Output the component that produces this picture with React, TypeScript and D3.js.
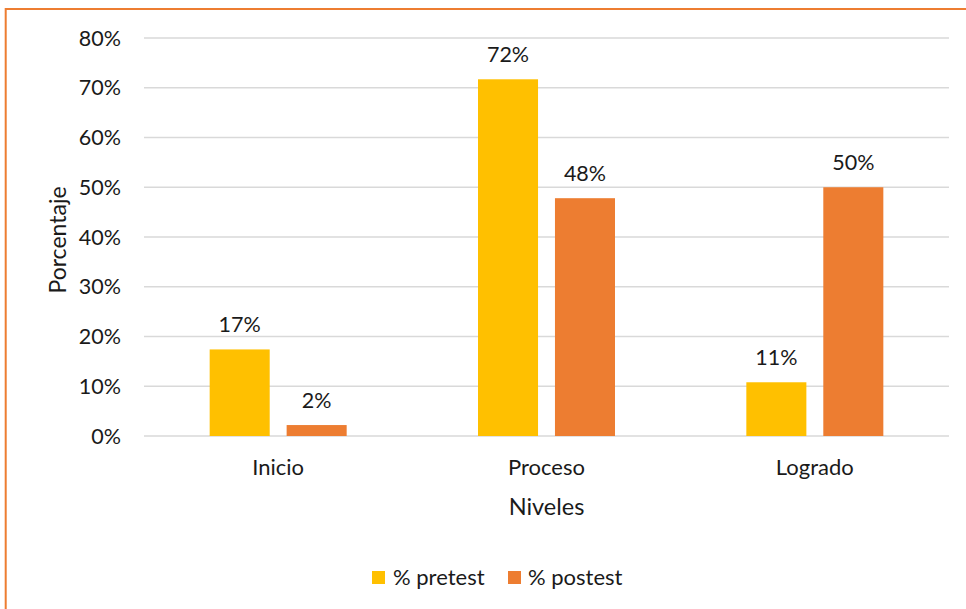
import React from "react";
import * as d3 from "d3";

const categories = ["Inicio", "Proceso", "Logrado"];
const seriesNames = ["% pretest", "% postest"];
const pretest = [17.4, 71.7, 10.8];
const postest = [2.2, 47.8, 50.0];
const yTicks = [0, 10, 20, 30, 40, 50, 60, 70, 80];
const colors = ["#FFC000", "#ED7D31"];

const W = 966;
const H = 609;
const FONT = "Lato, 'Open Sans', sans-serif";
const FS = 21.5;

export default function App() {
  const left = 144;
  const right = 949;
  const y0 = 436;
  const yTop = 38;
  const y = d3.scaleLinear().domain([0, 80]).range([y0, yTop]);
  const x = d3.scaleBand().domain(categories).range([left, right]).padding(0);
  const innerW = 137;
  const x1 = d3.scaleBand().domain(seriesNames).range([0, innerW]).paddingInner(0.22);
  const seriesVals = [pretest, postest];

  return (
    <div style={{ position: "fixed", left: 0, top: 0, width: W, height: H, background: "#fff" }}>
      <svg width={W} height={H} style={{ display: "block" }} fontFamily={FONT}>
        <rect x={0} y={0} width={W} height={H} fill="#fff" />
        <rect x={5.7} y={9} width={W + 20} height={H + 20} fill="none" stroke="#ED7D31" strokeWidth={2} />
        {yTicks.map((t) => (
          <g key={t}>
            <line x1={left} x2={right} y1={y(t)} y2={y(t)} stroke="#D9D9D9" strokeWidth={1.5} />
            <text x={121} y={y(t)} dy="0.35em" textAnchor="end" fontSize={FS} fill="#1a1a1a">
              {t + "%"}
            </text>
          </g>
        ))}
        {categories.map((c, i) => {
          const cx = (x(c) as number) + x.bandwidth() / 2;
          const start = cx - innerW / 2;
          return (
            <g key={c}>
              {seriesNames.map((s, j) => {
                const v = seriesVals[j][i];
                const bx = start + (x1(s) as number);
                return (
                  <g key={s}>
                    <rect x={bx} y={y(v)} width={x1.bandwidth()} height={y0 - y(v)} fill={colors[j]} />
                    <text x={bx + x1.bandwidth() / 2} y={y(v) - 25} dy="0.35em" textAnchor="middle" fontSize={FS} fill="#1a1a1a">
                      {Math.round(v) + "%"}
                    </text>
                  </g>
                );
              })}
              <text x={cx} y={467} dy="0.35em" textAnchor="middle" fontSize={FS + 0.5} fill="#1a1a1a">
                {c}
              </text>
            </g>
          );
        })}
        <text x={(left + right) / 2} y={507} dy="0.35em" textAnchor="middle" fontSize={FS + 2} fill="#1a1a1a">
          Niveles
        </text>
        <text transform={`translate(58,240) rotate(-90)`} dy="0.35em" textAnchor="middle" fontSize={FS + 1.5} fill="#1a1a1a">
          Porcentaje
        </text>
        <g>
          <rect x={372} y={571} width={13} height={13} fill={colors[0]} />
          <text x={393} y={577} dy="0.35em" fontSize={FS + 0.5} fill="#1a1a1a">{seriesNames[0]}</text>
          <rect x={508} y={571} width={13} height={13} fill={colors[1]} />
          <text x={528} y={577} dy="0.35em" fontSize={FS + 0.5} fill="#1a1a1a">{seriesNames[1]}</text>
        </g>
      </svg>
    </div>
  );
}
